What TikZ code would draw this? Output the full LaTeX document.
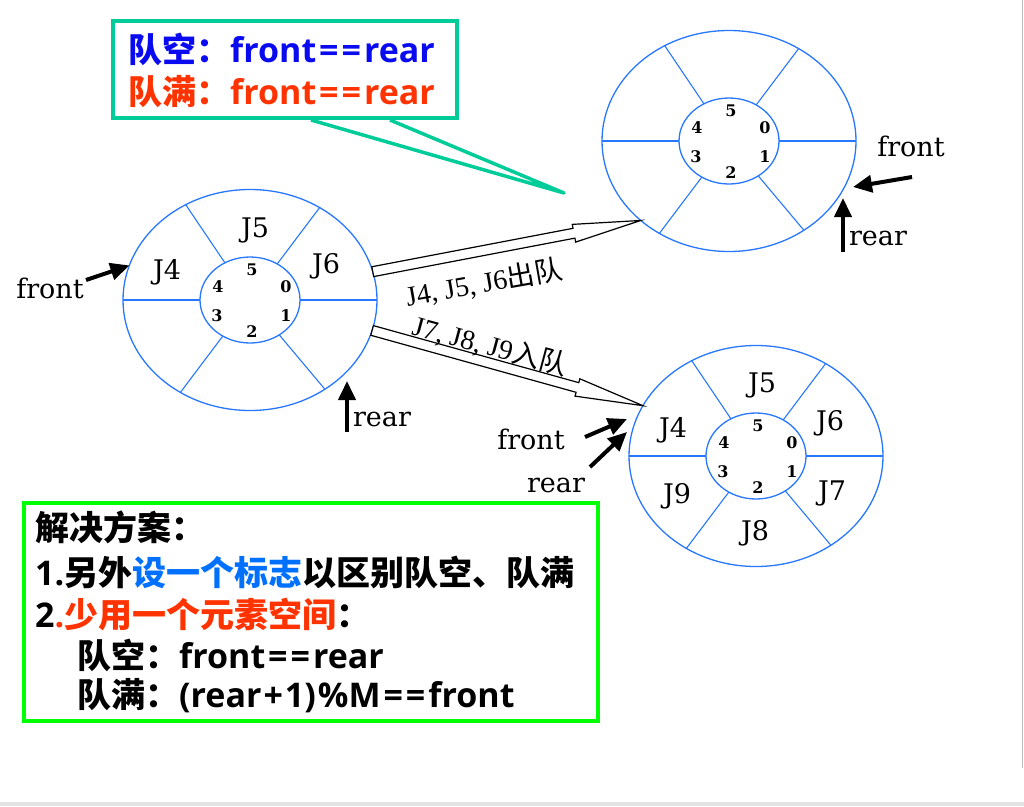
\documentclass[tikz,border=0pt]{standalone}
\usepackage{fontspec}
\setmainfont{DejaVu Serif}
\newfontfamily\zh{Noto Sans CJK SC}
\newfontfamily\os{Open Sans}
\newfontfamily\lsf{Liberation Serif}
\usetikzlibrary{shapes.geometric,calc,arrows.meta}
\definecolor{ringblue}{RGB}{40,120,255}
\definecolor{calloutteal}{RGB}{0,204,153}
\definecolor{cblue}{RGB}{10,10,240}
\definecolor{cred}{RGB}{255,51,0}
\definecolor{sblue}{RGB}{0,112,255}
\definecolor{boxgreen}{RGB}{0,255,0}
\newcommand\ZH[1]{{\zh #1}}
\newcommand\EQ{\kern3pt=\kern3pt=\kern3pt}
\newcommand\PL{\kern2pt+\kern2pt}
\tikzset{
 ringo/.style={ellipse, draw=ringblue, line width=1.3pt, minimum width=254pt, minimum height=221pt, inner sep=0pt, outer sep=0pt},
 ringi/.style={ellipse, draw=ringblue, line width=1.3pt, minimum width=100pt, minimum height=86pt, inner sep=0pt, outer sep=0pt},
 spoke/.style={draw=ringblue, line width=1.1pt},
 idx/.style={font=\bfseries\fontsize{16}{16}\selectfont, inner sep=0pt},
 jlab/.style={font=\fontsize{27}{27}\selectfont, inner sep=0pt},
 ptr/.style={font=\fontsize{27}{27}\selectfont, inner sep=0pt},
 blk/.style={line width=4pt, -{Triangle[length=19pt,width=17pt]}},
 hollow/.style={draw=black, line width=1.2pt, fill=white, line join=miter},
 alab/.style={font=\lsf\fontsize{28}{28}\selectfont, inner sep=0pt},
 bigtxt/.style={font=\os\bfseries\fontsize{34}{40}\selectfont, inner sep=0pt, anchor=base west},
 ring/.pic={
   \node[ringo] (-o) at (0,0) {};
   \node[ringi] (-i) at (0,0) {};
   \foreach \a in {0,53,124,180,233,310} \draw[spoke] (-i.\a) -- (-o.\a);
   \node[idx] (-n5) at (2,-30) {5};
   \node[idx] (-n0) at (36,-13) {0};
   \node[idx] (-n1) at (36,16) {1};
   \node[idx] (-n2) at (2,32) {2};
   \node[idx] (-n3) at (-33,16) {3};
   \node[idx] (-n4) at (-32,-13) {4};
 }
}
\begin{document}
\begin{tikzpicture}[x=1pt,y=-1pt]
\useasboundingbox (0,0) rectangle (1024,806);
\fill[white] (0,0) rectangle (1024,806);
\fill[gray!22] (0,802) rectangle (1024,806);
\draw[gray!55, line width=1.5pt] (1022.5,0) -- (1022.5,768);

% rings
\pic (L) at (250,300) {ring};
\pic (T) at (729,141) {ring};
\pic (B) at (756,456) {ring};
\draw[spoke, line width=2pt] (L-i.0) -- (L-o.0);
\draw[spoke, line width=2pt] (T-i.180) -- (T-o.180);
\draw[spoke, line width=2pt] (B-i.180) -- (B-o.180);

% element labels
\node[jlab] (lj5) at (255,230) {J5};
\node[jlab] (lj4) at (167,272) {J4};
\node[jlab] (lj6) at (326,266) {J6};
\node[jlab] (bj5) at (762,385) {J5};
\node[jlab] (bj4) at (673,430) {J4};
\node[jlab] (bj6) at (830,423) {J6};
\node[jlab] (bj9) at (677,496) {J9};
\node[jlab] (bj7) at (832,493) {J7};
\node[jlab] (bj8) at (755,533) {J8};

% pointers
\node[ptr] (lfront) at (50,288) {front};
\node[ptr] (lrear) at (382,419) {rear};
\node[ptr] (tfront) at (911,146) {front};
\node[ptr] (trear) at (878,238) {rear};
\node[ptr] (bfront) at (531,439) {front};
\node[ptr] (brear) at (556,485) {rear};
\coordinate (lft) at (86,280);
\coordinate (lrt) at (347,432);
\coordinate (lrh) at (347,381);
\coordinate (tft) at (912,177);
\coordinate (tfh) at (853,187);
\coordinate (trt) at (843,252);
\coordinate (trh) at (843,198);
\coordinate (bft) at (585,437);
\coordinate (bfh) at (627,419);
\coordinate (brt) at (590,467);
\coordinate (brh) at (627,432);
\draw[blk] (lft) -- (L-o.164);
\draw[blk] (lrt) -- (lrh);
\draw[blk] (tft) -- (tfh);
\draw[blk] (trt) -- (trh);
\draw[blk] (bft) -- (bfh);
\draw[blk] (brt) -- (brh);

% hollow transition arrows
\coordinate (a1) at (L-o.13.8);
\coordinate (b1) at (T-o.222);
\coordinate (h1) at ($(b1)!68pt!(a1)$);
\draw[hollow] ($(a1)!5pt!90:(b1)$) -- ($(h1)!5pt!90:(b1)$) -- ($(h1)!9pt!90:(b1)$) -- (b1)
  -- ($(h1)!9pt!-90:(b1)$) -- ($(h1)!5pt!-90:(b1)$) -- ($(a1)!5pt!-90:(b1)$) -- cycle;
\coordinate (a2) at (L-o.-14.3);
\coordinate (b2) at (B-o.156.3);
\coordinate (h2) at ($(b2)!68pt!(a2)$);
\draw[hollow] ($(a2)!5pt!90:(b2)$) -- ($(h2)!5pt!90:(b2)$) -- ($(h2)!9pt!90:(b2)$) -- (b2)
  -- ($(h2)!9pt!-90:(b2)$) -- ($(h2)!5pt!-90:(b2)$) -- ($(a2)!5pt!-90:(b2)$) -- cycle;
\node[alab, rotate=10] (lab1) at (484,283) {J4, J5, J6\ZH{出队}};
\node[alab, rotate=-15] (lab2) at (490,346) {J7, J8, J9\ZH{入队}};

% callout
\node[draw=calloutteal, line width=4pt, minimum width=344pt, minimum height=97pt, inner sep=0pt] (callout) at (285,69.5) {};
\coordinate (tip) at (564,193);
\draw[calloutteal, line width=3.5pt, line join=round] ($(callout.south west)+(200,0)$) -- (tip) -- ($(callout.south west)+(279,0)$);
\node[bigtxt, text=cblue] (c1) at (128,62) {\ZH{队空：}front\EQ rear};
\node[bigtxt, text=cred] (c2) at (128,104) {\ZH{队满：}front\EQ rear};

% solution box
\node[draw=boxgreen, line width=4pt, minimum width=574pt, minimum height=218pt, inner sep=0pt] (sol) at (311,612) {};
\node[bigtxt] (s1) at (35,540) {\ZH{解决方案：}};
\node[bigtxt] (s2) at (35,585) {1.\ZH{另外}\textcolor{sblue}{\ZH{设一个标志}}\ZH{以区别队空、队满}};
\node[bigtxt] (s3) at (35,627) {2\textcolor{cred}{.\ZH{少用一个元素空间}}\ZH{：}};
\node[bigtxt] (s4) at (77,668) {\ZH{队空：}front\EQ rear};
\node[bigtxt] (s5) at (77,707) {\ZH{队满：}(rear\PL 1)\kern2pt\%M\EQ front};
\end{tikzpicture}
\end{document}
